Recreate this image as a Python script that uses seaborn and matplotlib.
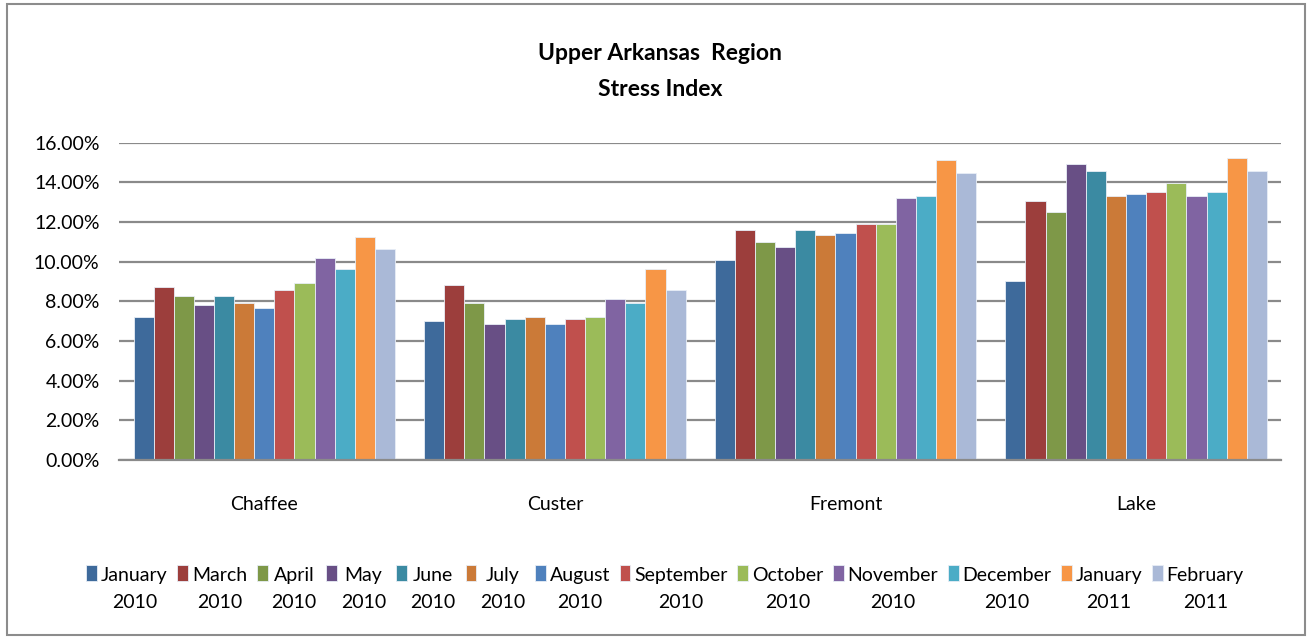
import pandas as pd
import matplotlib
matplotlib.use("Agg")
import matplotlib.pyplot as plt
import seaborn as sns
from matplotlib.ticker import FuncFormatter
from matplotlib.patches import Rectangle
from matplotlib.legend_handler import HandlerPatch

# Stress index (%) by county
counties = ["Chaffee", "Custer", "Fremont", "Lake"]
months = ["January\n2010", "March\n2010", "April\n2010", "May\n2010", "June\n2010",
          "July\n2010", "August\n2010", "September\n2010", "October\n2010",
          "November\n2010", "December\n2010", "January\n2011", "February\n2011"]

chaffee = [7.21, 8.71, 8.25, 7.80, 8.25, 7.92, 7.68, 8.59, 8.94, 10.21, 9.63, 11.23, 10.66]
custer = [6.99, 8.83, 7.92, 6.87, 7.11, 7.21, 6.87, 7.11, 7.21, 8.13, 7.92, 9.63, 8.59]
fremont = [10.09, 11.59, 11.00, 10.76, 11.59, 11.35, 11.45, 11.91, 11.91, 13.19, 13.29, 15.12, 14.45]
lake = [9.04, 13.07, 12.50, 14.91, 14.55, 13.29, 13.41, 13.52, 13.98, 13.29, 13.52, 15.24, 14.55]

colors = ["#3E6A9B", "#9C3E3C", "#7E9848", "#684F85", "#3B8AA2", "#CB7A38", "#4F81BD",
          "#C0504D", "#9BBB59", "#8064A2", "#4BACC6", "#F79646", "#AAB9D7"]

rows = []
for county, vals in zip(counties, [chaffee, custer, fremont, lake]):
    for m, v in zip(months, vals):
        rows.append({"county": county, "month": m, "value": v})
df = pd.DataFrame(rows)

sns.set_style("white")
plt.rcParams["font.family"] = ["Lato", "DejaVu Sans"]
plt.rcParams["text.color"] = "black"

fig = plt.figure(figsize=(13.12, 6.39), dpi=100)
ax = fig.add_axes([0.0907, 0.2801, 0.886, 0.4966])

sns.barplot(data=df, x="county", y="value", hue="month", hue_order=months,
            palette=colors, width=0.9, saturation=1, edgecolor="#E8EEF6",
            linewidth=0.6, ax=ax, legend=True)

ax.set_ylim(0, 16)
ax.set_xlim(-0.5, 3.5)
ax.set_yticks(range(0, 17, 2))
ax.yaxis.set_major_formatter(FuncFormatter(lambda v, p: f"{v:.2f}%"))
ax.yaxis.grid(True, color="#8A8A8A", linewidth=1.6)
ax.set_axisbelow(True)
for s in ["left", "right", "top"]:
    ax.spines[s].set_visible(False)
ax.spines["bottom"].set_color("#8A8A8A")
ax.spines["bottom"].set_linewidth(1.6)
ax.tick_params(axis="both", length=0, labelsize=14, colors="black")
ax.tick_params(axis="y", pad=14)
ax.tick_params(axis="x", pad=26)
ax.set_xlabel("")
ax.set_ylabel("")

fig.text(0.503, 0.888, "Upper Arkansas  Region\nStress Index", ha="center", va="center",
         fontsize=16.5, fontweight="bold", linespacing=1.85, color="black")


# legend swatch sits beside the first line of the two-line label
def upper_patch(legend, orig_handle, xdescent, ydescent, width, height, fontsize):
    return Rectangle((-xdescent, -ydescent + 0.85 * fontsize), width, height)


handles, labels = ax.get_legend_handles_labels()
leg = ax.legend(handles, labels, ncol=13, loc="center", bbox_to_anchor=(0.507, 0.078),
                bbox_transform=fig.transFigure, frameon=False, fontsize=14,
                handlelength=0.55, handleheight=0.9, handletextpad=0.2, columnspacing=0.5,
                handler_map={h: HandlerPatch(patch_func=upper_patch) for h in handles})
for t in leg.get_texts():
    t.set_multialignment("center")
    t.set_linespacing(1.75)

fig.add_artist(Rectangle((0.005, 0.006), 0.99, 0.988, transform=fig.transFigure,
                         fill=False, edgecolor="#8C8C8C", linewidth=1.5))

fig.savefig("out.png", dpi=100)
